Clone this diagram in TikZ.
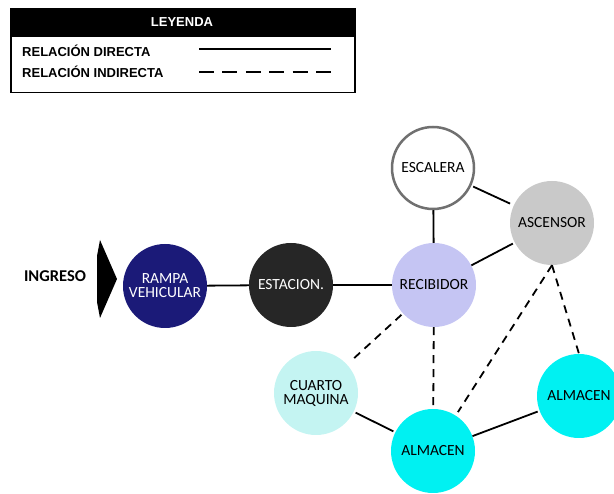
\documentclass[tikz,border=0pt]{standalone}
\usepackage{fontspec}
\setmainfont{Carlito}
\newfontfamily\legfont{Liberation Sans}
\definecolor{navy}{HTML}{1B1A78}
\definecolor{estac}{HTML}{262626}
\definecolor{recib}{HTML}{C5C5F3}
\definecolor{escb}{HTML}{707070}
\definecolor{ascen}{HTML}{C9C9C9}
\definecolor{cuarto}{HTML}{C4F4F2}
\definecolor{almac}{HTML}{00F1F2}
\begin{document}
\begin{tikzpicture}[x=1pt,y=-1pt,
  room/.style={circle,minimum size=84pt,inner sep=0pt,align=center,font=\fontsize{15.5}{17}\selectfont},
  direct/.style={line width=1.8pt,black},
  indirect/.style={line width=1.8pt,black,dash pattern=on 8pt off 6pt},
  legtxt/.style={anchor=west,font=\legfont\bfseries\fontsize{13}{15}\selectfont,inner sep=0pt}]
\useasboundingbox (0,0) rectangle (614,494);
% legend
\node[draw=black,line width=1.5pt,minimum width=344pt,minimum height=84pt,inner sep=0pt,anchor=north west] (legbox) at (10,8) {};
\fill[black] (10,8) rectangle (355,37);
\node[font=\legfont\bfseries\fontsize{13}{15}\selectfont,text=white] (legtitle) at (182,22) {LEYENDA};
\node[legtxt] (ld) at (22,51) {RELACIÓN DIRECTA};
\node[legtxt] (li) at (22,72) {RELACIÓN INDIRECTA};
\coordinate (ld1) at (199,49); \coordinate (ld2) at (331,49);
\coordinate (li1) at (199,72); \coordinate (li2) at (331,72);
\draw[line width=1.8pt] (ld1) -- (ld2);
\draw[line width=1.8pt,dash pattern=on 15pt off 8.4pt] (li1) -- (li2);
% entry
\node[font=\bfseries\fontsize{16.5}{18}\selectfont] (ingreso) at (55,276) {INGRESO};
\fill[black] (100,240) -- (117,279) -- (100,318) -- (97,302) -- (97,256) -- cycle;
% rooms
\node[room,fill=navy,text=white] (rampa) at (165,286) {RAMPA\\[-3pt]VEHICULAR};
\node[room,fill=estac,text=white] (estac) at (291,285) {ESTACION.};
\node[room,fill=recib] (recib) at (434,285) {RECIBIDOR};
\node[room,fill=white,draw=escb,line width=2.5pt,minimum size=82pt] (escal) at (433,168) {ESCALERA};
\node[room,fill=ascen] (ascen) at (552,223) {ASCENSOR};
\node[room,fill=cuarto] (cuarto) at (316,393) {CUARTO\\[-3pt]MAQUINA};
\node[room,fill=almac] (alm1) at (433,451) {ALMACEN};
\node[room,fill=almac] (alm2) at (579,396) {ALMACEN};
% connectors
\draw[direct] (rampa) -- (estac);
\draw[direct] (estac) -- (recib);
\draw[direct] (escal) -- (recib);
\draw[direct,shorten <=2pt,shorten >=4pt] (escal) -- (ascen);
\draw[direct,shorten >=2pt] (recib) -- (ascen);
\draw[direct,shorten <=2pt,shorten >=2pt] (cuarto) -- (alm1);
\draw[direct,shorten >=2pt] (alm1) -- (alm2);
\draw[indirect,shorten <=2pt,shorten >=4pt] (recib) -- (cuarto);
\draw[indirect] (recib) -- (alm1);
\draw[indirect,shorten >=4pt] (ascen.south) -- (alm1);
\draw[indirect] (ascen.south) -- (alm2.north);
\end{tikzpicture}
\end{document}
